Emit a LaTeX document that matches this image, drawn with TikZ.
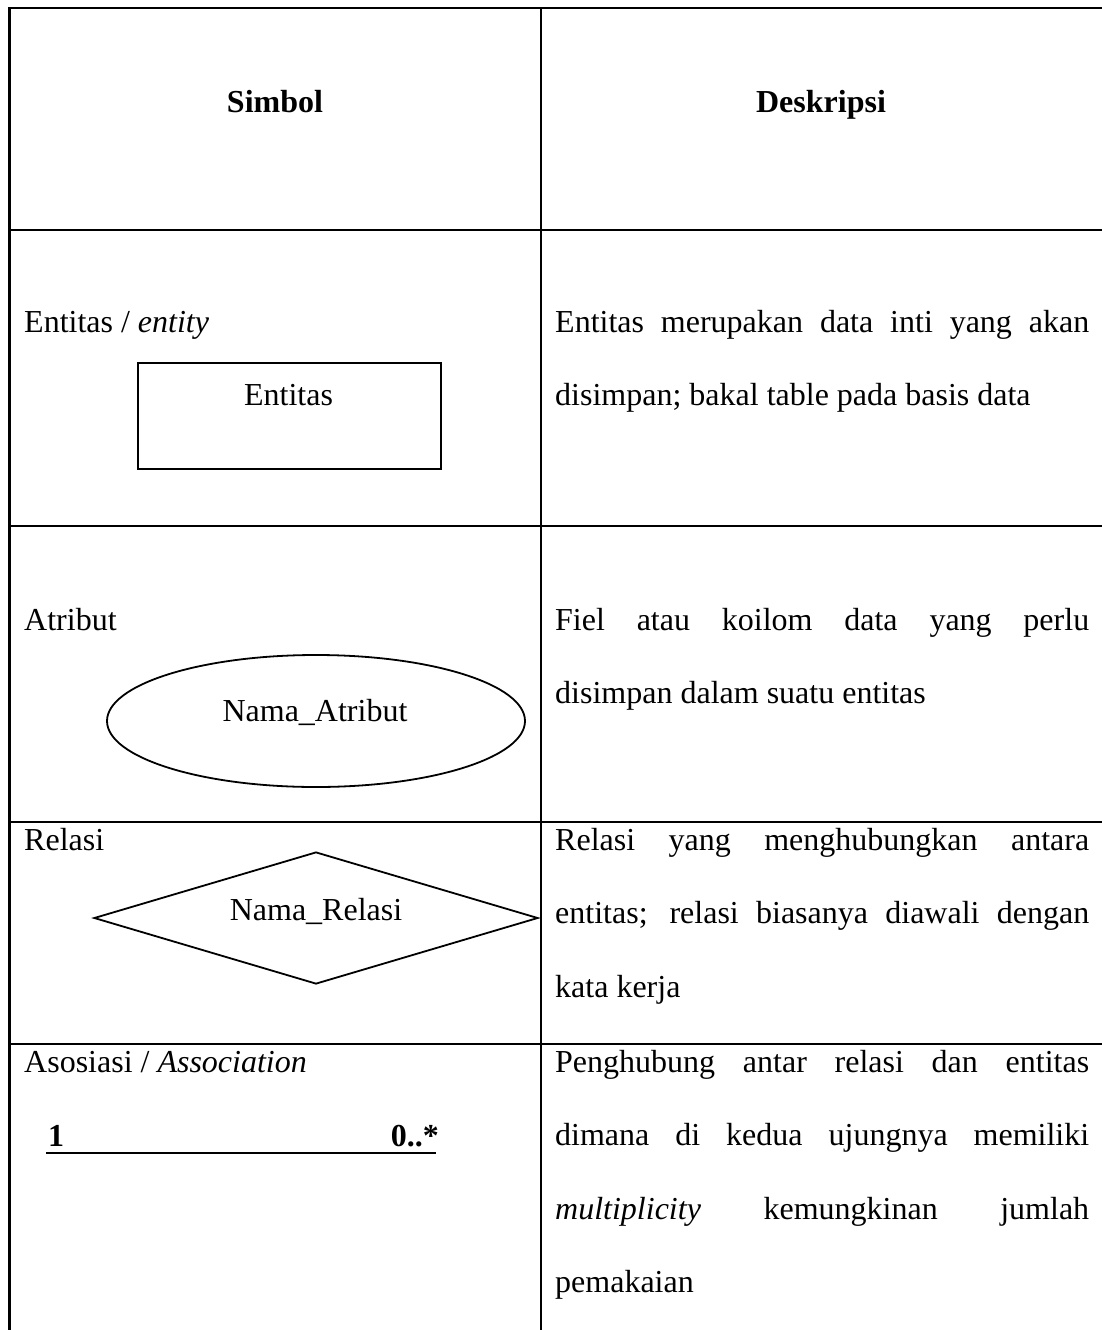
\documentclass[tikz,border=0pt]{standalone}
\usepackage{fontspec}
\setmainfont{Liberation Serif}
\usetikzlibrary{shapes.geometric}

% body text size of the table
\newcommand\tabtext{\fontsize{32pt}{36pt}\selectfont}

\tikzset{
  rule/.style={line width=2.7pt, line cap=rect},
  shapeline/.style={draw, line width=1.8pt, inner sep=0pt},
  cellL/.style={anchor=base west, inner sep=0pt, font=\tabtext},
  cellC/.style={anchor=base, inner sep=0pt, font=\tabtext\bfseries},
  inshape/.style={anchor=base, inner sep=0pt, font=\tabtext},
}

% one fully justified line of the description column
\newcommand\jline[1]{\makebox[534pt][s]{#1}}

\begin{document}
\begin{tikzpicture}[x=1pt,y=-1pt]
\useasboundingbox (0,0) rectangle (1101,1330);

% ---- table rules ----
\draw[rule] (9.5,8) -- (1101,8);
\draw[rule] (9.5,8) -- (9.5,1332);
\draw[rule] (541,8) -- (541,1332);
\draw[rule] (9.5,230) -- (1101,230);
\draw[rule] (9.5,526) -- (1101,526);
\draw[rule] (9.5,822) -- (1101,822);
\draw[rule] (9.5,1044) -- (1101,1044);

% ---- header ----
\node[cellC] (hSym) at (275,112) {Simbol};
\node[cellC] (hDesc) at (821,112) {Deskripsi};

% ---- entity ----
\node[cellL] (eLab) at (24,332) {Entitas / \textit{entity}};
\node[shapeline, anchor=north west, minimum width=303pt, minimum height=106pt] (eBox) at (137,362) {};
\node[inshape] (eTxt) at (288.5,405) {Entitas};
\node[cellL] (eD1) at (555,332) {\jline{Entitas merupakan data inti yang akan}};
\node[cellL] (eD2) at (555,405.6) {disimpan; bakal table pada basis data};

% ---- attribute ----
\node[cellL] (aLab) at (24,630) {Atribut};
\node[shapeline, ellipse, minimum width=418pt, minimum height=132pt] (aEll) at (316,721) {};
\node[inshape] (aTxt) at (315,721) {Nama\_Atribut};
\node[cellL] (aD1) at (555,630) {\jline{Fiel atau koilom data yang perlu}};
\node[cellL] (aD2) at (555,703.6) {disimpan dalam suatu entitas};

% ---- relation ----
\node[cellL] (rLab) at (24,850) {Relasi};
\node[shapeline, diamond, minimum width=444pt, minimum height=132pt] (rDia) at (316,918) {};
\node[inshape] (rTxt) at (316,920) {Nama\_Relasi};
\node[cellL] (rD1) at (555,850) {\jline{Relasi yang menghubungkan antara}};
\node[cellL] (rD2) at (555,923.6) {\jline{entitas; relasi biasanya diawali dengan}};
\node[cellL] (rD3) at (555,997.2) {kata kerja};

% ---- association ----
\node[cellL] (sLab) at (24,1072) {Asosiasi / \textit{Association}};
\node[cellL, font=\tabtext\bfseries] (sOne) at (48,1146) {1};
\node[anchor=base east, inner sep=0pt, font=\tabtext\bfseries] (sMany) at (439,1146) {0..*};
\coordinate (ulA) at (46,1153);
\coordinate (ulB) at (436,1153);
\draw[line width=2pt] (ulA) -- (ulB);
\node[cellL] (sD1) at (555,1072) {\jline{Penghubung antar relasi dan entitas}};
\node[cellL] (sD2) at (555,1145.6) {\jline{dimana di kedua ujungnya memiliki}};
\node[cellL] (sD3) at (555,1219.2) {\jline{\textit{multiplicity} kemungkinan jumlah}};
\node[cellL] (sD4) at (555,1292.8) {pemakaian};
\end{tikzpicture}
\end{document}
